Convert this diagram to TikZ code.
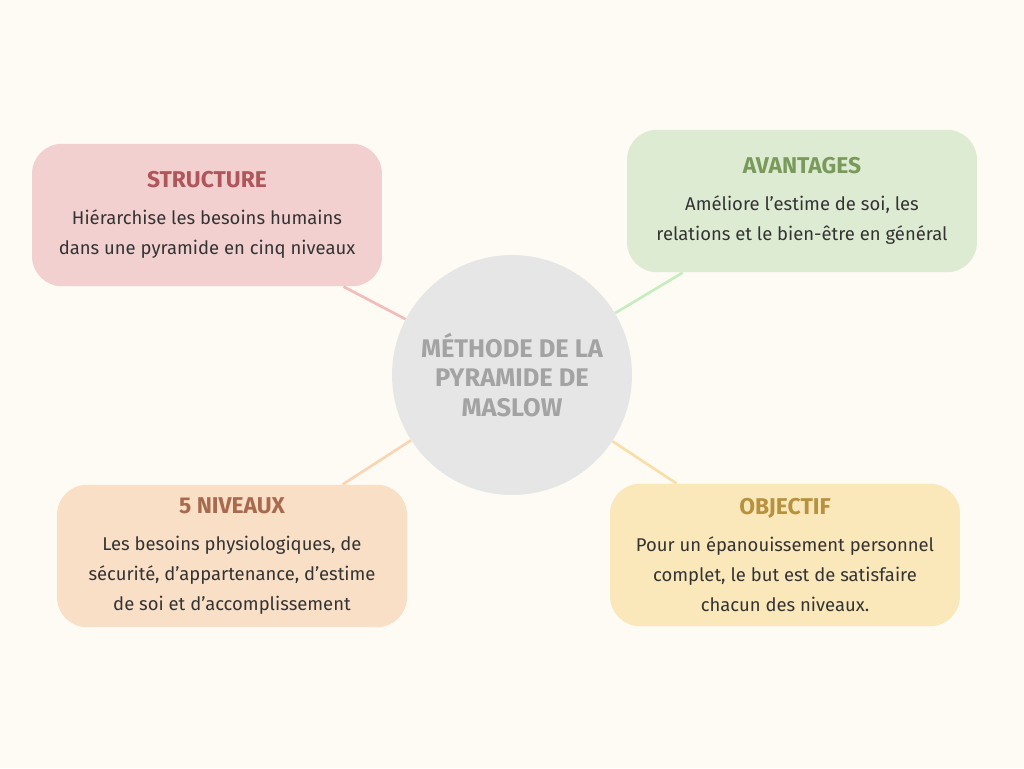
\documentclass[tikz,border=0pt]{standalone}
\usepackage{fontspec}
\setmainfont{Fira Sans}
\usetikzlibrary{positioning}
\definecolor{fond}{HTML}{FDFBF4}
\definecolor{gris}{HTML}{E6E6E6}
\definecolor{grisT}{HTML}{A3A3A3}
\definecolor{rose}{HTML}{F3D0D0}
\definecolor{roseT}{HTML}{B0565B}
\definecolor{vert}{HTML}{DDEBD3}
\definecolor{vertT}{HTML}{7A9A5B}
\definecolor{peche}{HTML}{FADFC7}
\definecolor{pecheT}{HTML}{A86A4E}
\definecolor{jaune}{HTML}{FAE8BB}
\definecolor{jauneT}{HTML}{B8913E}
\newcommand{\Titre}[2]{{\color{#1}\fontsize{13}{15}\selectfont\bfseries #2}}
\tikzset{
    Bloc/.style={rectangle, rounded corners=0.6cm, minimum width=7cm, minimum height=2.85cm, align=center, font=\fontsize{10.5}{17}\selectfont, text=black!80},
    Lien/.style={line width=1.5pt}
    }
\begin{document}
\begin{tikzpicture}[x=0.02cm,y=-0.02cm]
\useasboundingbox[fill=fond] (0,0) rectangle (1024,768);

\node[circle, fill=gris, minimum size=4.8cm, align=center, text=grisT, font=\fontsize{14.5}{17}\selectfont\bfseries] (Centre) at (512,375) {MÉTHODE DE LA\\PYRAMIDE DE\\MASLOW};

\node[Bloc, fill=rose] (Structure) at (207,215) {\Titre{roseT}{STRUCTURE}\\[4pt]Hiérarchise les besoins humains\\dans une pyramide en cinq niveaux};
\node[Bloc, fill=vert] (Avantages) at (802,201) {\Titre{vertT}{AVANTAGES}\\[4pt]Améliore l'estime de soi, les\\relations et le bien-être en général};
\node[Bloc, fill=peche] (Niveaux) at (232,556) {\Titre{pecheT}{5 NIVEAUX}\\[4pt]Les besoins physiologiques, de\\sécurité, d'appartenance, d'estime\\de soi et d'accomplissement};
\node[Bloc, fill=jaune] (Objectif) at (785,555) {\Titre{jauneT}{OBJECTIF}\\[4pt]Pour un épanouissement personnel\\complet, le but est de satisfaire\\chacun des niveaux.};

\draw[Lien, rose!90!red] (Structure) -- (Centre);
\draw[Lien, vert!90!green] (Avantages) -- (Centre);
\draw[Lien, peche!90!orange] (Niveaux) -- (Centre);
\draw[Lien, jaune!90!orange] (Objectif) -- (Centre);
\end{tikzpicture}
\end{document}
